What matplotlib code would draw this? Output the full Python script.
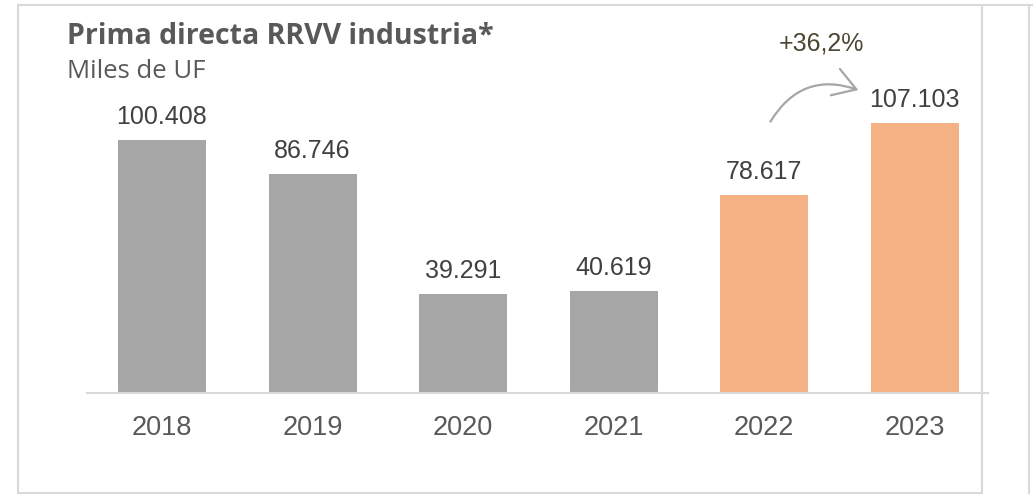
import numpy as np
import matplotlib.pyplot as plt
from matplotlib.patches import FancyArrowPatch
from matplotlib.lines import Line2D

# Data
years = ["2018", "2019", "2020", "2021", "2022", "2023"]
values = [100408, 86746, 39291, 40619, 78617, 107103]
value_labels = ["100.408", "86.746", "39.291", "40.619", "78.617", "107.103"]
bar_colors = ["#A6A6A6", "#A6A6A6", "#A6A6A6", "#A6A6A6", "#F4B183", "#F4B183"]
growth_label = "+36,2%"

W, H = 1033, 495
fig = plt.figure(figsize=(W / 100, H / 100), dpi=100, facecolor="white")

def px(x, y):
    # pixel coords (top-left origin) -> figure fraction
    return x / W, 1 - y / H

# Frame lines
frame_color = "#D9D9D9"
for (x0, y0, x1, y1) in [(18, 5, 1033, 5), (18, 5, 18, 493), (18, 493, 982, 493),
                         (982, 5, 982, 493), (1029, 5, 1029, 493)]:
    a, b = px(x0, y0)
    c, d = px(x1, y1)
    fig.add_artist(Line2D([a, c], [b, d], color=frame_color, lw=1.5))

# Axes: baseline at y=393 px, from x=87 to 988 px
ax_left, ax_right = 87, 988
ax_bottom, ax_top = 393, 40
ax = fig.add_axes([ax_left / W, 1 - ax_bottom / H, (ax_right - ax_left) / W, (ax_bottom - ax_top) / H])
ax.patch.set_alpha(0)

x = np.arange(len(years))
spacing = 150.5
x0 = (ax_left - 162) / spacing
x1 = (ax_right - 162) / spacing
ax.bar(x, values, width=88 / spacing, color=bar_colors, zorder=2)
ax.set_xlim(x0, x1)
ymax = values[-1] * (ax_bottom - ax_top) / 270
ax.set_ylim(0, ymax)

for xi, v, lab in zip(x, values, value_labels):
    ax.annotate(lab, (xi, v), xytext=(0, 23), textcoords="offset pixels",
                ha="center", va="center", fontsize=18, color="#404040",
                family="Liberation Sans")

ax.set_xticks(x)
ax.set_xticklabels(years, fontsize=19.5, color="#595959", family="Liberation Sans")
ax.tick_params(axis="x", length=0, pad=16)
ax.set_yticks([])
for s in ["left", "right", "top"]:
    ax.spines[s].set_visible(False)
ax.spines["bottom"].set_color("#D9D9D9")
ax.spines["bottom"].set_linewidth(1.5)

# Titles
fig.text(*px(67, 36), "Prima directa RRVV industria*", fontsize=20.5, fontweight="bold",
         color="#595959", family="Open Sans", va="center", ha="left")
fig.text(*px(67, 72), "Miles de UF", fontsize=18.5, color="#595959",
         family="Open Sans", va="center", ha="left")

# Growth annotation
fig.text(*px(821, 43), growth_label, fontsize=18, color="#4A4630",
         family="Liberation Sans", va="center", ha="center")
arrow = FancyArrowPatch(px(769, 124), px(861, 91), transform=fig.transFigure,
                        connectionstyle="arc3,rad=-0.42", arrowstyle="->,head_length=8,head_width=5",
                        color="#A6A6A6", lw=1.6, mutation_scale=2)
fig.add_artist(arrow)

fig.savefig("out.png", dpi=100, facecolor="white")
